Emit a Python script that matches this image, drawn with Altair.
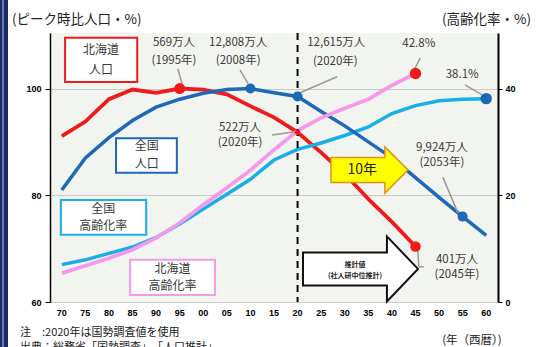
import altair as alt
import pandas as pd

# ---------------- data ----------------
years = [1970, 1975, 1980, 1985, 1990, 1995, 2000, 2005, 2010, 2015,
         2020, 2025, 2030, 2035, 2040, 2045, 2050, 2055, 2060]
year_labels = ["70", "75", "80", "85", "90", "95", "00", "05", "10", "15",
               "20", "25", "30", "35", "40", "45", "50", "55", "60"]
years_hk = years[:16]

hk_pop = [91.1, 93.8, 98.0, 99.8, 99.2, 100.0, 99.8, 98.9, 96.7, 94.6,
          91.8, 88.0, 84.0, 79.3, 75.0, 70.4]
jp_pop = [81.0, 87.0, 90.8, 94.0, 96.5, 98.0, 99.1, 99.8, 100.0, 99.2,
          98.5, 95.7, 93.0, 90.0, 87.0, 83.3, 79.6, 76.0, 72.5]
jp_aging = [7.0, 7.9, 9.1, 10.3, 12.1, 14.6, 17.4, 20.2, 23.0, 26.6,
            28.6, 29.8, 31.2, 32.8, 35.3, 36.8, 37.7, 38.0, 38.1]
hk_aging = [5.4, 6.8, 8.2, 9.8, 12.0, 14.8, 18.2, 21.4, 24.7, 28.5,
            32.1, 34.5, 36.3, 38.0, 40.6, 42.8]

mk_pop_series = ["hk", "hk", "hk", "jp", "jp", "jp"]
mk_pop_year = [1995, 2020, 2045, 2010, 2020, 2055]
mk_pop_value = [100.0, 91.8, 70.4, 100.0, 98.5, 76.0]
mk_pop_size = [120, 30, 110, 100, 100, 100]

mk_age_series = ["jp", "hk"]
mk_age_year = [2060, 2045]
mk_age_value = [38.1, 42.8]

ann_labels = ["569万人", "(1995年)", "12,808万人", "(2008年)", "12,615万人", "(2020年)",
              "42.8%", "38.1%", "522万人", "(2020年)", "9,924万人", "(2053年)",
              "401万人", "(2045年)"]
ann_x = [1993.8, 1993.8, 2007.4, 2007.4, 2028.2, 2028.0, 2045.7, 2054.9,
         2007.8, 2007.8, 2050.6, 2050.6, 2053.8, 2053.8]
ann_y = [108.5, 105.2, 108.5, 105.2, 108.5, 105.0, 108.3, 102.5,
         92.6, 89.8, 88.9, 86.0, 67.9, 65.1]

lead_x = [1994.6, 2007.8, 2028.4, 2046.0, 2055.5, 2014.6, 2050.8, 2045.5, 2045.7]
lead_x2 = [1995.5, 2009.5, 2020.5, 2044.9, 2059.1, 2019.5, 2054.0, 2045.7, 2046.8]
lead_y = [103.7, 103.5, 102.2, 105.7, 100.7, 91.3, 83.4, 70.1, 66.6]
lead_y2 = [100.9, 100.9, 99.2, 103.8, 98.8, 91.9, 76.7, 66.6, 66.6]

box_names = ["hkpop", "jppop", "jpage", "hkage"]
box_x = [1970.7, 1981.5, 1969.8, 1984.5]
box_x2 = [1986.0, 1994.4, 1987.9, 2002.5]
box_y = [109.5, 90.7, 79.1, 67.9]
box_y2 = [101.2, 84.2, 72.6, 61.3]

box_text = ["北海道", "人口", "全国", "人口", "全国", "高齢化率", "北海道", "高齢化率"]
box_text_x = [1978.3, 1978.3, 1988.0, 1988.0, 1978.8, 1978.8, 1993.5, 1993.5]
box_text_y = [107.3, 103.5, 89.15, 85.85, 77.5, 74.2, 66.2, 63.0]

# ---------------- styles ----------------
RED = "#ef1a1a"
BLUE = "#1d68b8"
CYAN = "#1aaee8"
PINK = "#f59aeb"
TXT = "#3a3a3a"
JFONT = "Noto Sans CJK JP"
NFONT = "Liberation Sans"

XD = [1967.5, 2062.5]
YL = [60, 110.4]
YR = [0, 50.4]
PLOT_W, PLOT_H = 448, 269

xscale = alt.Scale(domain=XD, nice=False, zero=False)
lscale = alt.Scale(domain=YL, nice=False, zero=False)
rscale = alt.Scale(domain=YR, nice=False, zero=False)

x_axis = alt.Axis(values=years, labels=False, ticks=False, grid=False,
                  domainColor="black", domainWidth=2, title=None)
yl_axis = alt.Axis(values=[60, 80, 100], orient="left", grid=True,
                   gridColor="#c9c9c9", gridWidth=1, tickSize=5,
                   tickColor="black", domainColor="black", domainWidth=1.5,
                   labelFontSize=9, labelFontWeight="bold", labelFont=NFONT,
                   labelColor="black", labelPadding=4, title=None)
yr_axis = alt.Axis(values=[0, 20, 40], orient="right", grid=False, tickSize=4,
                   tickColor="black", domainColor="black", domainWidth=2,
                   labelFontSize=9, labelFontWeight="bold", labelFont=NFONT,
                   labelColor="black", labelPadding=3, title=None)


def X(field, axis=None):
    return alt.X(f"{field}:Q", scale=xscale, axis=axis)


def YLe(field, axis=None):
    return alt.Y(f"{field}:Q", scale=lscale, axis=axis)


def YRe(field, axis=None):
    return alt.Y(f"{field}:Q", scale=rscale, axis=axis)


# ---------------- frames ----------------
df_hk = pd.DataFrame({"year": years_hk, "pop": hk_pop, "age": hk_aging})
df_jp = pd.DataFrame({"year": years, "pop": jp_pop, "age": jp_aging})
df_xl = pd.DataFrame({"year": years, "lab": year_labels})
df_mkp = pd.DataFrame({"s": mk_pop_series, "year": mk_pop_year,
                       "v": mk_pop_value, "size": mk_pop_size})
df_mka = pd.DataFrame({"s": mk_age_series, "year": mk_age_year, "v": mk_age_value})
df_ann = pd.DataFrame({"year": ann_x, "v": ann_y, "t": ann_labels})
df_lead = pd.DataFrame({"x": lead_x, "x2": lead_x2, "y": lead_y, "y2": lead_y2})
df_box = pd.DataFrame({"n": box_names, "x": box_x, "x2": box_x2, "y": box_y, "y2": box_y2})
df_boxt = pd.DataFrame({"t": box_text, "x": box_text_x, "y": box_text_y})

box_colors = alt.Scale(domain=box_names, range=[RED, BLUE, CYAN, PINK])
pop_colors = alt.Scale(domain=["hk", "jp"], range=[RED, BLUE])
age_colors = alt.Scale(domain=["jp", "hk"], range=[CYAN, PINK])

# ---------------- layers ----------------
red_line = alt.Chart(df_hk).mark_line(color=RED, strokeWidth=3.8).encode(
    x=X("year", x_axis), y=YLe("pop", yl_axis))
blue_line = alt.Chart(df_jp).mark_line(color=BLUE, strokeWidth=3.5).encode(
    x=X("year"), y=YLe("pop"))
cyan_line = alt.Chart(df_jp).mark_line(color=CYAN, strokeWidth=3.5).encode(
    x=X("year"), y=YRe("age", yr_axis))
pink_line = alt.Chart(df_hk).mark_line(color=PINK, strokeWidth=3.8).encode(
    x=X("year"), y=YRe("age"))

x_labels = alt.Chart(df_xl).mark_text(
    font=NFONT, fontSize=9, fontWeight="bold", color="black",
    baseline="middle").encode(x=X("year"), y=alt.value(PLOT_H + 11), text="lab:N")

pop_marks = alt.Chart(df_mkp).mark_point(filled=True, opacity=1).encode(
    x=X("year"), y=YLe("v"),
    color=alt.Color("s:N", scale=pop_colors, legend=None),
    size=alt.Size("size:Q", scale=None, legend=None))
age_marks = alt.Chart(df_mka).mark_point(filled=True, opacity=1, size=130).encode(
    x=X("year"), y=YRe("v"),
    color=alt.Color("s:N", scale=age_colors, legend=None))

dash = alt.Chart(pd.DataFrame({"year": [2020]})).mark_rule(
    color="black", strokeWidth=2, strokeDash=[7, 5]).encode(x=X("year"))

leaders = alt.Chart(df_lead).mark_rule(color="#9a9a9a", strokeWidth=1.5).encode(
    x=X("x"), x2="x2:Q", y=YLe("y"), y2="y2:Q")

ann = alt.Chart(df_ann).mark_text(font=JFONT, fontSize=11.5, color=TXT).encode(
    x=X("year"), y=YLe("v"), text="t:N")

boxes = alt.Chart(df_box).mark_rect(fill="white", strokeWidth=2).encode(
    x=X("x"), x2="x2:Q", y=YLe("y"), y2="y2:Q",
    stroke=alt.Stroke("n:N", scale=box_colors, legend=None))
boxt = alt.Chart(df_boxt).mark_text(font=JFONT, fontSize=12, color=TXT).encode(
    x=X("x"), y=YLe("y"), text="t:N")

yellow_path = "M -1 -0.325 L 0.4 -0.325 L 0.4 -0.6 L 1 0 L 0.4 0.6 L 0.4 0.325 L -1 0.325 Z"
yellow = alt.Chart(pd.DataFrame({"x": [2035.25], "y": [84.73]})).mark_point(
    shape=yellow_path, filled=True, fill="#ffff00", stroke="#e0901c",
    strokeWidth=1.5, opacity=1, size=5929).encode(x=X("x"), y=YLe("y"))
yellow_t = alt.Chart(pd.DataFrame({"x": [2033.7], "y": [84.7], "t": ["10年"]})).mark_text(
    font=JFONT, fontSize=14, color="#222").encode(x=X("x"), y=YLe("y"), text="t:N")

white_path = "M -1 -0.287 L 0.46 -0.287 L 0.46 -0.565 L 1 0 L 0.46 0.565 L 0.46 0.287 L -1 0.287 Z"
white = alt.Chart(pd.DataFrame({"x": [2033.34], "y": [66.2]})).mark_point(
    shape=white_path, filled=True, fill="white", stroke="#111",
    strokeWidth=2, opacity=1, size=13225).encode(x=X("x"), y=YLe("y"))
white_t = alt.Chart(pd.DataFrame({"x": [2032.2, 2032.2], "y": [66.9, 64.9],
                                  "t": ["推計値", "(社人研中位推計)"]})).mark_text(
    font=JFONT, fontSize=7, fontWeight="bold", color="#222").encode(
    x=X("x"), y=YLe("y"), text="t:N")


def fixed_text(txt, px, py, **kw):
    return alt.Chart(alt.Data(values=[{}])).mark_text(text=txt, **kw).encode(
        x=alt.value(px - 50), y=alt.value(py - 33))


t_left = fixed_text("(ピーク時比人口・%)", 12, 20, font=JFONT, fontSize=13.5,
                    color="#222", align="left")
t_right = fixed_text("(高齢化率・%)", 442, 20, font=JFONT, fontSize=13.5,
                     color="#222", align="left")
t_note = fixed_text("注　:2020年は国勢調査値を使用", 20, 333, font=JFONT, fontSize=11,
                    color="#222", align="left")
t_src = fixed_text("出典：総務省「国勢調査」、「人口推計」", 20, 348, font=JFONT, fontSize=11,
                   color="#222", align="left")
t_year = fixed_text("(年（西暦）)", 472, 341, font=JFONT, fontSize=11.5,
                    color="#222", align="center")

navy = alt.Chart(alt.Data(values=[{}])).mark_rect(color="#1b2a6b").encode(
    x=alt.value(-50), x2=alt.value(-42), y=alt.value(-33), y2=alt.value(314))
navy_line = alt.Chart(alt.Data(values=[{}])).mark_rule(color="#c8cde0", strokeWidth=1).encode(
    x=alt.value(-47), y=alt.value(-33), y2=alt.value(314))

chart = alt.layer(
    red_line, cyan_line, blue_line, pink_line, dash, x_labels,
    leaders, pop_marks, age_marks, boxes, boxt, ann,
    yellow, yellow_t, white, white_t,
    t_left, t_right, t_note, t_src, t_year, navy, navy_line
).resolve_scale(y="independent").properties(
    width=PLOT_W, height=PLOT_H,
    autosize=alt.AutoSizeParams(type="none"),
    padding={"left": 50, "top": 33, "right": 40, "bottom": 45},
    background="white"
).configure_view(fill="#f2f4ef", strokeWidth=0)

chart.save("out.html", embed_options={"renderer": "svg", "actions": False})
